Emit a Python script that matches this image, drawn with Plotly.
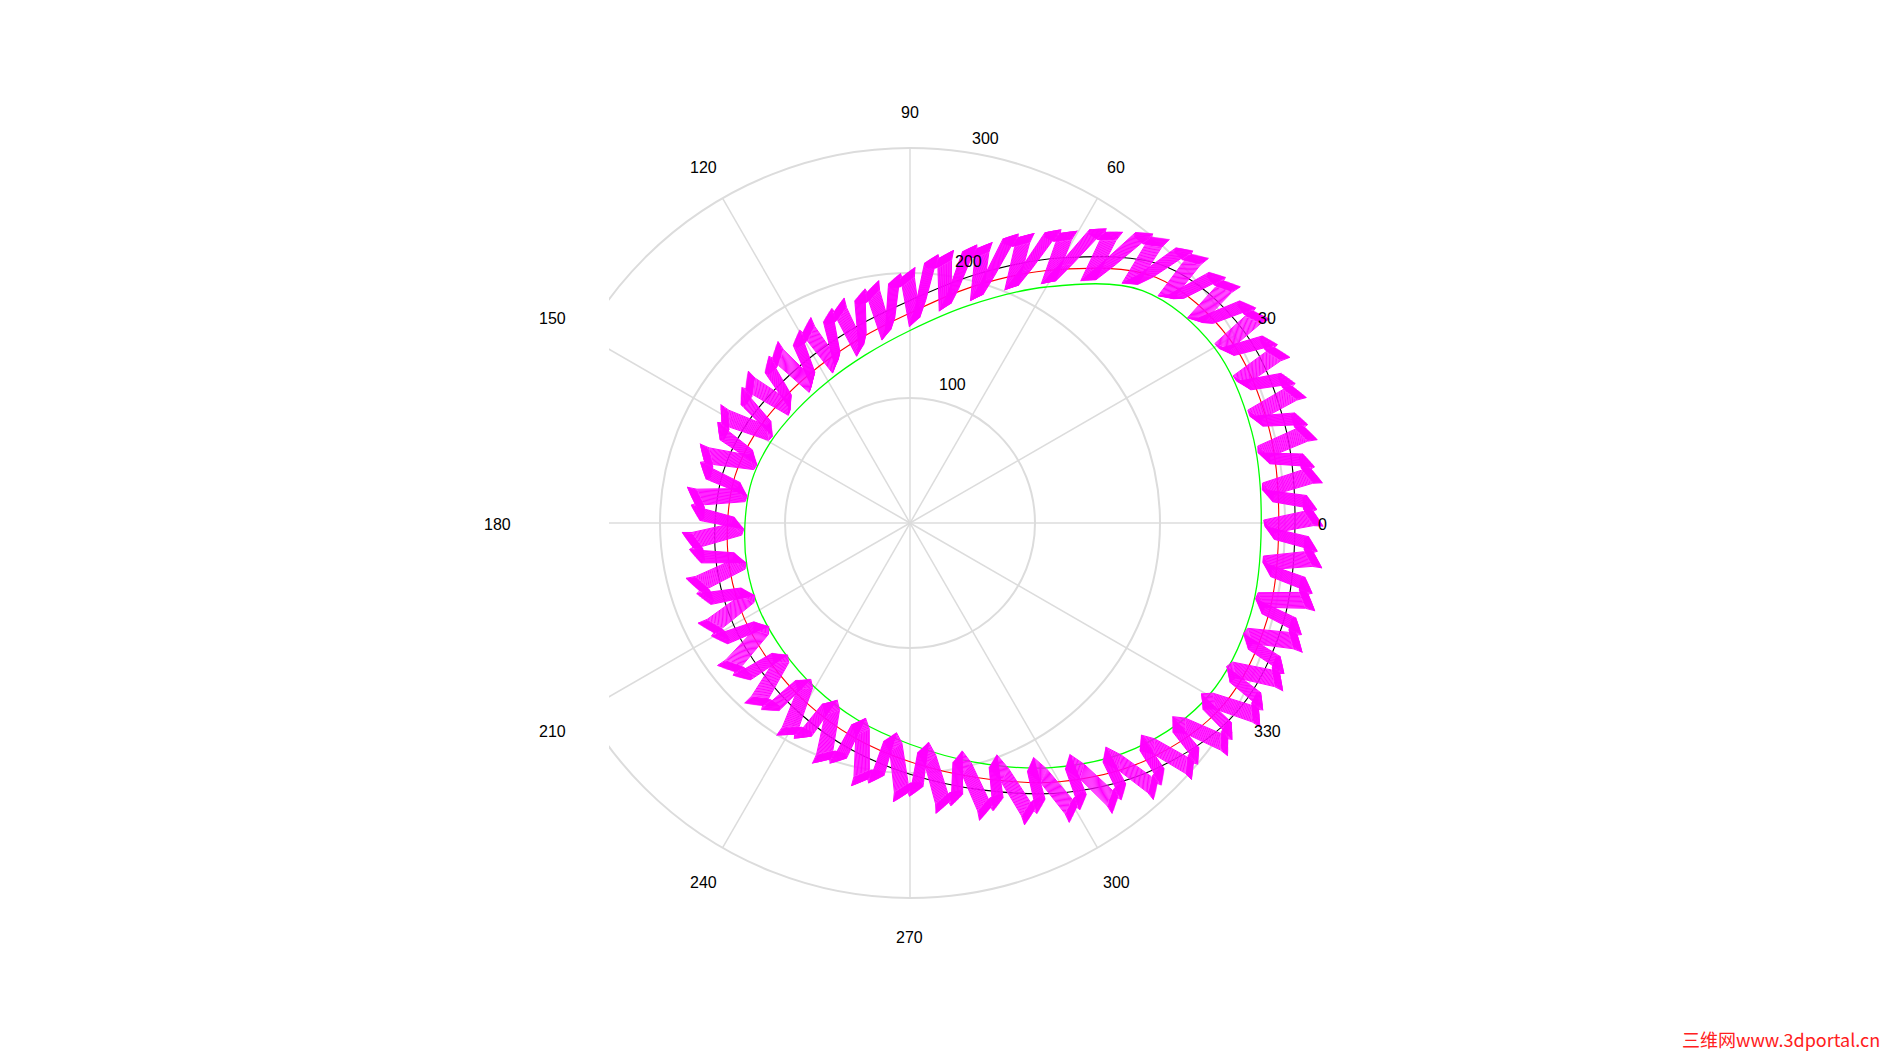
import math
import plotly.graph_objects as go

# ---------------- data ----------------
angles_deg = [0, 15, 30, 45, 60, 75, 90, 105, 120, 135, 150, 165,
              180, 195, 210, 225, 240, 255, 270, 285, 300, 315, 330, 345]
green_r = [281, 283, 281, 263, 218, 180, 154, 139, 131, 128, 129, 131,
           132, 135, 139, 144, 152, 163, 177, 198, 226, 255, 276, 282]
red_r = [295, 297, 295, 278, 234, 196, 168, 153, 145, 142, 143, 145,
         146, 149, 153, 158, 166, 177, 191, 211, 239, 268, 290, 296]
black_r = [308, 310, 308, 290, 245, 206, 178, 163, 155, 152, 153, 155,
           156, 159, 163, 168, 176, 187, 201, 221, 249, 278, 302, 309]

# teeth of the magenta generating pattern
tooth_angle = [0, 6, 12, 18, 24, 30, 36, 42, 48, 54.3, 60.7, 67.3, 74.2, 81.5,
               89.5, 98, 107, 116.5, 126.8, 137.6, 148.8, 160.2, 171.7, 183.2,
               194.7, 206.1, 217.3, 228.2, 238.6, 248.6, 258.1, 267.2, 275.7,
               283.7, 291.3, 298.5, 305.3, 311.8, 318.1, 324.2, 330.2, 336.2,
               342.2, 348.2, 354.2]
tooth_r_in = [283, 284, 285, 285, 284, 283, 276, 269, 256, 237, 218, 201, 184,
              171, 157, 148, 140, 135, 132, 130, 131, 132, 133, 135, 137, 140,
              144, 148, 153, 160, 168, 176, 187, 198, 212, 225, 238, 251, 261,
              270, 278, 281, 283, 284, 284]
tooth_r_out = [315, 316, 317, 317, 316, 315, 309, 303, 291, 272, 253, 236, 218,
               205, 189, 180, 172, 167, 164, 162, 163, 164, 165, 167, 169, 172,
               176, 180, 185, 192, 200, 208, 218, 229, 243, 256, 268, 280, 290,
               300, 309, 312, 315, 316, 316]

# one tooth: position within the pitch and height level (0 = root, 1 = top)
tooth_u = [0.08, 0.28, 0.27, 0.33, 0.62, 0.66, 0.68, 0.90]
tooth_level = [0.0, 1.0, 1.25, 1.0, 1.0, 1.1, 1.0, 0.0]

# successive tool positions (radial shift, shift as a fraction of the pitch)
copy_dr = [0, 0.4, 0.8, 1.2, 1.6, 2.0, 2.4, 2.8, 3.2, 3.6, 4.0, 4.4, 4.8,
           5.2, 5.6, 6.0, 6.4, 6.8, 7.2, 7.6]
copy_du = [0, -0.018, -0.036, -0.054, -0.072, -0.09, -0.108, -0.126, -0.144,
           -0.162, -0.18, -0.198, -0.216, -0.234, -0.252, -0.27, -0.288,
           -0.306, -0.324, -0.342]

angular_ticks = [0, 30, 60, 90, 120, 150, 180, 210, 240, 270, 300, 330]
radial_ticks = [100, 200, 300]

# label positions (polar coordinates, as placed in the reference)
angular_label_r = 330
radial_label_theta = [73.3, 77.4, 78.9]
radial_label_r = [117, 215.6, 315.5]

# ---------------- figure ----------------
W, H = 1902, 1057
CX, CY = 910, 523          # polar centre in pixels
PX_PER_UNIT = 1.25         # 300 units -> 375 px
RMAX = 345
RPX = RMAX * PX_PER_UNIT
GRID = "#dcdcdc"
FONT = "Liberation Sans, Arial, sans-serif"

fig = go.Figure()

# spokes of the grid (0 .. 300 only)
sp_t, sp_r = [], []
for a in angular_ticks:
    sp_t += [a, a, None]
    sp_r += [0, radial_ticks[-1], None]
fig.add_trace(go.Scatterpolar(theta=sp_t, r=sp_r, mode="lines",
                              line=dict(color=GRID, width=1.5),
                              connectgaps=False, showlegend=False, hoverinfo="skip"))


def closed(th, rr):
    return list(th) + [th[0] + 360], list(rr) + [rr[0]]


for vals, col, w in [(green_r, "#00ff00", 1.3), (red_r, "#ff0000", 1.1),
                     (black_r, "#000000", 1.1)]:
    th, rr = closed(angles_deg, vals)
    fig.add_trace(go.Scatterpolar(theta=th, r=rr, mode="lines",
                                  line=dict(color=col, width=w, shape="spline"),
                                  showlegend=False, hoverinfo="skip"))

mth, mr = [], []
n = len(tooth_angle)
for dr, du in zip(copy_dr, copy_du):
    first = None
    for i in range(n):
        a0 = tooth_angle[i]
        a1 = tooth_angle[(i + 1) % n] + (360 if i == n - 1 else 0)
        pitch = a1 - a0
        for u, lv in zip(tooth_u, tooth_level):
            t = a0 + (u + du) * pitch
            r = tooth_r_in[i] + lv * (tooth_r_out[i] - tooth_r_in[i]) + dr
            mth.append(t)
            mr.append(r)
            if first is None:
                first = (t, r)
    mth.append(first[0] + 360)
    mr.append(first[1])
    mth.append(None)
    mr.append(None)

fig.add_trace(go.Scatterpolar(theta=mth, r=mr, mode="lines",
                              line=dict(color="#ff00ff", width=1.0),
                              connectgaps=False, showlegend=False, hoverinfo="skip"))

fig.update_layout(
    width=W, height=H,
    margin=dict(l=0, r=0, t=0, b=0),
    paper_bgcolor="white",
    plot_bgcolor="white",
    font=dict(family=FONT, size=16, color="#000"),
    polar=dict(
        domain=dict(x=[(CX - RPX) / W, (CX + RPX) / W],
                    y=[(H - CY - RPX) / H, (H - CY + RPX) / H]),
        bgcolor="rgba(0,0,0,0)",
        radialaxis=dict(range=[0, RMAX], tickvals=radial_ticks, showticklabels=False,
                        showline=False, ticks="", showgrid=True, gridcolor=GRID,
                        gridwidth=1.5),
        angularaxis=dict(rotation=0, direction="counterclockwise",
                         showgrid=False, showline=False, ticks="",
                         showticklabels=False),
    ),
)

# the reference axes box cuts the grid on the left side
fig.add_shape(type="rect", xref="paper", yref="paper", layer="above",
              x0=572 / W, x1=609 / W, y0=1 - 760 / H, y1=1 - 290 / H,
              fillcolor="white", line=dict(width=0))
fig.add_shape(type="rect", xref="paper", yref="paper", layer="above",
              x0=528 / W, x1=572 / W, y0=1 - 700 / H, y1=1 - 345 / H,
              fillcolor="white", line=dict(width=0))


def polar_to_paper(theta_deg, r):
    px = CX + r * PX_PER_UNIT * math.cos(math.radians(theta_deg))
    py = CY - r * PX_PER_UNIT * math.sin(math.radians(theta_deg))
    return px / W, 1 - py / H


# angular tick labels
for a in angular_ticks:
    x, y = polar_to_paper(a, angular_label_r)
    fig.add_annotation(x=x, y=y, xref="paper", yref="paper", text=str(a),
                       xanchor="center", yanchor="middle",
                       showarrow=False, yshift=-2,
                       font=dict(size=16, color="#000", family=FONT))
# radial tick labels
for v, t, r in zip(radial_ticks, radial_label_theta, radial_label_r):
    x, y = polar_to_paper(t, r)
    fig.add_annotation(x=x, y=y, xref="paper", yref="paper", text=str(v),
                       xanchor="center", yanchor="middle",
                       showarrow=False, yshift=-2,
                       font=dict(size=16, color="#000", family=FONT))

# watermark
fig.add_annotation(x=1882 / W, y=1 - 1054 / H, xref="paper", yref="paper",
                   xanchor="right", yanchor="bottom",
                   text="三维网www.3dportal.cn", showarrow=False,
                   font=dict(family="Noto Sans CJK SC", size=18, color="#ff2020"))

fig.write_html("out.html", config={"displayModeBar": False},
               post_script="document.body.style.margin='0';")
